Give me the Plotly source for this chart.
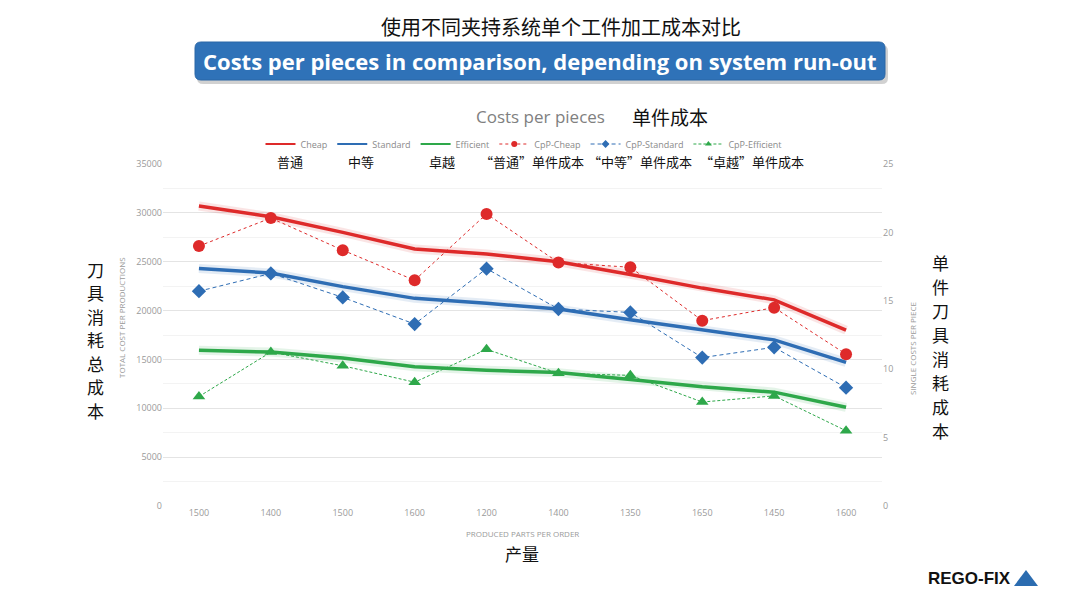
import plotly.graph_objects as go

# ---- data ----
parts = ["1500", "1400", "1500", "1600", "1200", "1400", "1350", "1650", "1450", "1600"]
cheap = [30700, 29600, 28000, 26300, 25800, 25000, 23700, 22300, 21100, 18000]
standard = [24300, 23850, 22450, 21250, 20750, 20150, 19050, 18000, 17000, 14700]
efficient = [15950, 15750, 15150, 14250, 13900, 13650, 12950, 12200, 11650, 10100]
cpp_cheap = [19.0, 21.05, 18.7, 16.5, 21.35, 17.8, 17.45, 13.55, 14.5, 11.1]
cpp_standard = [15.7, 17.0, 15.25, 13.3, 17.35, 14.4, 14.15, 10.85, 11.6, 8.65]
cpp_efficient = [8.0, 11.25, 10.25, 9.05, 11.45, 9.7, 9.55, 7.6, 8.05, 5.5]

RED, BLUE, GREEN = "#DE2A2A", "#2E6DB4", "#2EA84A"
CJK = "Noto Sans CJK SC"
LAT = "Open Sans"

W, H = 1080, 607
PL, PR, PT, PB = 163, 882, 164, 506


def px(x):
    return (x - PL) / (PR - PL)


def py(y):
    return (PB - y) / (PB - PT)


x = list(range(len(parts)))
fig = go.Figure()

# glow under the main lines
for ys, c in [(cheap, RED), (standard, BLUE), (efficient, GREEN)]:
    fig.add_trace(go.Scatter(x=x, y=ys, mode="lines", line=dict(color=c, width=9),
                             opacity=0.12, showlegend=False, hoverinfo="skip"))

series = [
    ("Cheap", cheap, "y", RED, "solid", None, 3.5, 0),
    ("Standard", standard, "y", BLUE, "solid", None, 3.5, 0),
    ("Efficient", efficient, "y", GREEN, "solid", None, 3.5, 0),
    ("CpP-Cheap", cpp_cheap, "y2", RED, "dot", "circle", 1, 12),
    ("CpP-Standard", cpp_standard, "y2", BLUE, "4px,3px", "diamond", 1, 11),
    ("CpP-Efficient", cpp_efficient, "y2", GREEN, "3px,2px", "triangle-up", 1, 11),
]
for name, ys, ax, c, dash, sym, lw, ms in series:
    if sym is None:
        fig.add_trace(go.Scatter(x=x, y=ys, name=name, mode="lines", yaxis=ax,
                                 line=dict(color=c, width=lw), showlegend=False))
    else:
        fig.add_trace(go.Scatter(x=x, y=ys, name=name, mode="lines+markers", yaxis=ax,
                                 line=dict(color=c, width=lw, dash=dash),
                                 marker=dict(symbol=sym, size=ms, color=c), showlegend=False))

# legend entries (small symbols as in the reference), no data of their own
for name, ys, ax, c, dash, sym, lw, ms in series:
    if sym is None:
        fig.add_trace(go.Scatter(x=[None], y=[None], name=name, mode="lines",
                                 line=dict(color=c, width=2)))
    else:
        fig.add_trace(go.Scatter(x=[None], y=[None], name=name, mode="lines+markers",
                                 line=dict(color=c, width=1, dash=dash),
                                 marker=dict(symbol=sym, size=6, color=c)))

tickfont = dict(family=LAT, size=9, color="#9a9a9a")

fig.update_layout(
    width=W, height=H,
    margin=dict(l=PL, r=W - PR, t=PT, b=H - PB),
    paper_bgcolor="white", plot_bgcolor="white",
    showlegend=True,
    legend=dict(orientation="h", x=px(524), xanchor="center", y=py(144), yanchor="middle",
                font=dict(family=LAT, size=9, color="#8a8a8a"), itemwidth=30,
                bgcolor="rgba(0,0,0,0)", tracegroupgap=0),
    xaxis=dict(tickmode="array", tickvals=x, ticktext=parts, range=[-0.5, len(parts) - 0.5],
               showgrid=False, zeroline=False, showline=False, ticks="", tickfont=tickfont),
    yaxis=dict(range=[0, 35000], dtick=5000, tickformat="d", tickfont=tickfont, showline=False,
               zeroline=False, gridcolor="#e4e4e4", gridwidth=1, ticks="", ticklen=0,
               minor=dict(dtick=2500, showgrid=True, gridcolor="#f3f3f3")),
    yaxis2=dict(range=[0, 25], dtick=5, overlaying="y", side="right", tickfont=tickfont,
                showgrid=False, zeroline=False, showline=False, ticks=""),
)

# ---- banner title (rounded box) ----
def rounded(x0, y0, x1, y1, r):
    X0, X1 = px(x0), px(x1)
    Y0, Y1 = py(y0), py(y1)
    rx = r / (PR - PL)
    ry = r / (PB - PT)
    return (f"M {X0+rx},{Y0} L {X1-rx},{Y0} Q {X1},{Y0} {X1},{Y0-ry} "
            f"L {X1},{Y1+ry} Q {X1},{Y1} {X1-rx},{Y1} L {X0+rx},{Y1} "
            f"Q {X0},{Y1} {X0},{Y1+ry} L {X0},{Y0-ry} Q {X0},{Y0} {X0+rx},{Y0} Z")


fig.add_shape(type="path", xref="paper", yref="paper", path=rounded(197, 45, 888, 84, 6),
              fillcolor="rgba(0,0,0,0.18)", line=dict(width=0), layer="below")
fig.add_shape(type="path", xref="paper", yref="paper", path=rounded(195, 42, 885, 80, 6),
              fillcolor="#2F72B8", line=dict(color="#2A66A6", width=1), layer="above")

annots = [
    dict(text="使用不同夹持系统单个工件加工成本对比", x=561, y=27, size=20, color="#111", fam=CJK),
    dict(text="<b>Costs per pieces in comparison, depending on system run-out</b>", x=540, y=61,
         size=22, color="white", fam=LAT),
    dict(text="Costs per pieces", x=540, y=116, size=17, color="#808080", fam=LAT),
    dict(text="单件成本", x=670, y=116, size=19, color="#111", fam=CJK),
    dict(text="普通", x=290, y=161, size=13, color="#111", fam=CJK),
    dict(text="中等", x=361, y=161, size=13, color="#111", fam=CJK),
    dict(text="卓越", x=442, y=161, size=13, color="#111", fam=CJK),
    dict(text="“普通”单件成本", x=532, y=161, size=13, color="#111", fam=CJK),
    dict(text="“中等”单件成本", x=640, y=161, size=13, color="#111", fam=CJK),
    dict(text="“卓越”单件成本", x=752, y=161, size=13, color="#111", fam=CJK),
    dict(text="PRODUCED PARTS PER ORDER", x=522, y=533, size=8, color="#9a9a9a", fam=LAT),
    dict(text="产量", x=522, y=553, size=17, color="#111", fam=CJK),
    dict(text="<b>REGO-FIX</b>", x=969, y=578, size=17, color="#111", fam="Liberation Sans"),
]
for a in annots:
    fig.add_annotation(text=a["text"], x=px(a["x"]), y=py(a["y"]), xref="paper", yref="paper",
                       showarrow=False, xanchor="center", yanchor="middle",
                       font=dict(family=a["fam"], size=a["size"], color=a["color"]))

# vertical Chinese axis labels, one character per annotation
for text, cx, y0, pitch in [("刀具消耗总成本", 95, 269, 23.5), ("单件刀具消耗成本", 940, 262, 24)]:
    for i, ch in enumerate(text):
        fig.add_annotation(text=ch, x=px(cx), y=py(y0 + i * pitch), xref="paper", yref="paper",
                           showarrow=False, xanchor="center", yanchor="middle", borderpad=0,
                           font=dict(family=CJK, size=17, color="#111"))

# small rotated axis titles
fig.add_annotation(text="TOTAL COST PER PRODUCTIONS", x=px(121), y=py(318), xref="paper", yref="paper",
                   showarrow=False, textangle=-90, xanchor="center", yanchor="middle",
                   font=dict(family=LAT, size=8, color="#9a9a9a"))
fig.add_annotation(text="SINGLE COSTS PER PIECE", x=px(912), y=py(349), xref="paper", yref="paper",
                   showarrow=False, textangle=-90, xanchor="center", yanchor="middle",
                   font=dict(family=LAT, size=8, color="#9a9a9a"))

# logo triangle
fig.add_shape(type="path", xref="paper", yref="paper",
              path=f"M {px(1014)},{py(586)} L {px(1038)},{py(586)} L {px(1026)},{py(570)} Z",
              fillcolor="#2B6CB0", line=dict(width=0))

fig.write_html("out.html", config={"displayModeBar": False},
               post_script="document.body.style.margin='0';")
